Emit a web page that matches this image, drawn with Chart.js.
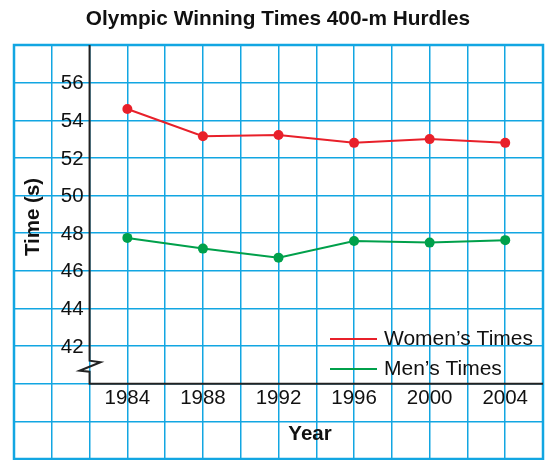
<!DOCTYPE html>
<html>
<head>
<meta charset="utf-8">
<script src="https://cdn.jsdelivr.net/npm/chart.js@4/dist/chart.umd.min.js"></script>
<style>
html,body{margin:0;padding:0;background:#fff;overflow:hidden;}
canvas{display:block;}
</style>
</head>
<body>
<canvas id="c" width="548" height="464"></canvas>
<script>
const years = [1984, 1988, 1992, 1996, 2000, 2004];
const womenTimes = [54.6, 53.15, 53.22, 52.8, 53.0, 52.8];
const menTimes = [47.75, 47.18, 46.7, 47.58, 47.5, 47.63];
const xTickLabels = ['1984', '1988', '1992', '1996', '2000', '2004'];
const yTickLabels = [42, 44, 46, 48, 50, 52, 54, 56];
const seriesNames = ['Women\u2019s Times', 'Men\u2019s Times'];
const titleText = 'Olympic Winning Times 400-m Hurdles';
const xTitle = 'Year';
const yTitle = 'Time (s)';

const FONT = '"Liberation Sans", Arial, Helvetica, sans-serif';
const GRID = '#12a6e2';

const decor = {
  id: 'decor',
  beforeDatasetsDraw(chart) {
    const ctx = chart.ctx, xs = chart.scales.x, ys = chart.scales.y, a = chart.chartArea;
    ctx.save();
    // outer border
    ctx.strokeStyle = GRID;
    ctx.lineWidth = 2.5;
    ctx.strokeRect(a.left, a.top, a.right - a.left, a.bottom - a.top);
    // axes
    const ax = xs.getPixelForValue(1982);
    const ay = ys.getPixelForValue(40);
    ctx.strokeStyle = '#222';
    ctx.lineWidth = 2;
    ctx.beginPath();
    ctx.moveTo(ax, a.top);
    ctx.lineTo(ax, ay - 23);
    ctx.lineTo(ax + 11, ay - 21.5);
    ctx.lineTo(ax - 10, ay - 13);
    ctx.lineTo(ax, ay - 12);
    ctx.lineTo(ax, ay);
    ctx.lineTo(a.right, ay);
    ctx.stroke();
    // tick labels
    ctx.fillStyle = '#111';
    ctx.font = '20.5px ' + FONT;
    ctx.textAlign = 'right';
    ctx.textBaseline = 'middle';
    yTickLabels.forEach(v => ctx.fillText(String(v), ax - 6, ys.getPixelForValue(v) + 1));
    ctx.textAlign = 'center';
    xTickLabels.forEach(l => ctx.fillText(l, xs.getPixelForValue(+l), ay + 15));
    // axis titles
    ctx.font = 'bold 20.5px ' + FONT;
    ctx.fillText(xTitle, 310, 434);
    ctx.save();
    ctx.translate(33, 217);
    ctx.rotate(-Math.PI / 2);
    ctx.fillText(yTitle, 0, 0);
    ctx.restore();
    // chart title
    ctx.font = 'bold 20.8px ' + FONT;
    ctx.fillText(titleText, 278, 19);
    // legend
    ctx.font = '21px ' + FONT;
    ctx.textAlign = 'left';
    const ly = [339, 369];
    chart.data.datasets.forEach((ds, i) => {
      ctx.strokeStyle = ds.borderColor;
      ctx.lineWidth = 2;
      ctx.beginPath();
      ctx.moveTo(330, ly[i]);
      ctx.lineTo(377, ly[i]);
      ctx.stroke();
      ctx.fillStyle = '#111';
      ctx.fillText(ds.label, 384, ly[i]);
    });
    ctx.restore();
  }
};

new Chart(document.getElementById('c'), {
  type: 'line',
  data: {
    datasets: [
      {
        label: seriesNames[0],
        data: years.map((y, i) => ({x: y, y: womenTimes[i]})),
        borderColor: '#e8202a', backgroundColor: '#e8202a',
        borderWidth: 2, pointRadius: 5, pointBorderWidth: 0, tension: 0
      },
      {
        label: seriesNames[1],
        data: years.map((y, i) => ({x: y, y: menTimes[i]})),
        borderColor: '#00a04b', backgroundColor: '#00a04b',
        borderWidth: 2, pointRadius: 5, pointBorderWidth: 0, tension: 0
      }
    ]
  },
  options: {
    responsive: false,
    animation: false,
    layout: {padding: {left: 14, right: 4, top: 45, bottom: 2}},
    plugins: {legend: {display: false}, title: {display: false}, tooltip: {enabled: false}},
    scales: {
      x: {
        type: 'linear', min: 1978, max: 2006,
        ticks: {display: false, stepSize: 2},
        grid: {color: GRID, lineWidth: 1.5, drawTicks: false},
        border: {display: false}
      },
      y: {
        type: 'linear', min: 36, max: 58,
        ticks: {display: false, stepSize: 2},
        grid: {color: GRID, lineWidth: 1.5, drawTicks: false},
        border: {display: false}
      }
    }
  },
  plugins: [decor]
});
</script>
</body>
</html>
